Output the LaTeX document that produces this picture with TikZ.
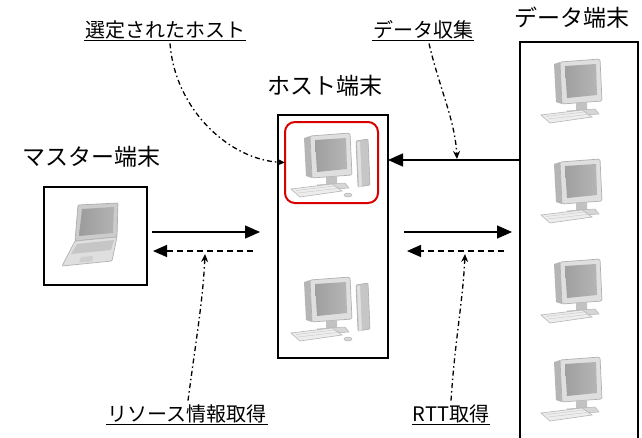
\documentclass[tikz,border=0pt]{standalone}
\usepackage{fontspec}
\newfontfamily\jp{Noto Sans CJK JP}
\usetikzlibrary{arrows.meta}

\tikzset{
  % flat-panel desktop monitor with keyboard (origin = top left)
  pics/monitor/.style={code={
    \fill[gray!58] (16,6) -- (22,4) -- (24,46) -- (18,44) -- cycle;
    \filldraw[fill=gray!25,draw=gray!62,line width=0.7pt,rounded corners=1.5pt]
      (22,4) -- (62,1) -- (64,43) -- (24,46) -- cycle;
    \shade[left color=gray!75,right color=gray!58]
      (27,8) -- (58,6) -- (59,37) -- (29,40) -- cycle;
    \fill[gray!48] (38,45) -- (49,44) -- (49,52) -- (38,53) -- cycle;
    \filldraw[fill=gray!32,draw=gray!58,line width=0.5pt]
      (29,53) -- (57,51) -- (61,56) -- (33,58) -- cycle;
    \filldraw[fill=gray!14,draw=gray!58,line width=0.6pt]
      (3,57) -- (44,52) -- (54,59) -- (12,65) -- cycle;
    \draw[gray!42,line width=0.4pt] (8,58.5) -- (46,54) (10,61) -- (49,56.5);
  }},
  % tower case and mouse next to the monitor
  pics/tower/.style={code={
    \filldraw[fill=gray!45,draw=gray!65,line width=0.6pt,rounded corners=1pt]
      (68,9) -- (80,7) -- (82,53) -- (70,55) -- cycle;
    \fill[gray!24] (69,10) -- (72,9.5) -- (74,54.5) -- (71,55) -- cycle;
    \filldraw[fill=gray!32,draw=gray!58,line width=0.5pt] (60,63) ellipse (4 and 2);
  }},
  % notebook computer (origin = top left)
  pics/laptop/.style={code={
    \filldraw[fill=gray!40,draw=gray!65,line width=0.7pt,rounded corners=1pt]
      (18,2) -- (58,0) -- (57,34) -- (15,38) -- cycle;
    \shade[left color=gray!78,right color=gray!60]
      (22,6) -- (54,4) -- (53,30) -- (19,33) -- cycle;
    \filldraw[fill=gray!25,draw=gray!60,line width=0.7pt,rounded corners=1pt]
      (15,38) -- (57,34) -- (52,58) -- (2,63) -- cycle;
    \fill[gray!45] (17,41) -- (54,37) -- (51,47) -- (11,51) -- cycle;
    \fill[gray!38] (21,54) -- (33,53) -- (32,58.5) -- (19,59.5) -- cycle;
  }},
}

\begin{document}
\begin{tikzpicture}[x=1pt,y=-1pt,
  box/.style={draw=black,line width=1.4pt,inner sep=0pt,outer sep=0pt},
  selbox/.style={draw=red!85!black,line width=2pt,rounded corners=10pt,inner sep=0pt,outer sep=0pt},
  title/.style={font=\jp\fontsize{23}{23}\selectfont,inner sep=0pt},
  lbl/.style={font=\jp\fontsize{20}{20}\selectfont,inner sep=1pt},
  uline/.style={line width=0.8pt},
  flow/.style={line width=1.4pt,-{Triangle[length=15pt,width=13pt]}},
  back/.style={line width=1.3pt,dash pattern=on 6pt off 4pt,-{Triangle[length=14pt,width=12pt]}},
  note/.style={line width=1.3pt,dash pattern=on 5pt off 3pt on 1.5pt off 3pt,-{Stealth[length=8pt,width=7pt]}},
]
\useasboundingbox[fill=white] (0,0) rectangle (642,437);

% boxes
\node[box,minimum width=103,minimum height=98] (master) at (95.5,236) {};
\node[box,minimum width=110,minimum height=243] (host) at (333,236.5) {};
\node[box,minimum width=118,minimum height=400] (data) at (579,242) {};
\node[selbox,minimum width=93,minimum height=81] (sel) at (331.5,162.5) {};

% computers
\begin{scope}[shift={(60,203)},scale=1.12]
  \pic at (0,0) {laptop};
\end{scope}
\pic at (288,132) {monitor};
\pic at (288,132) {tower};
\pic at (288,276) {monitor};
\pic at (288,276) {tower};
\pic at (538,58) {monitor};
\pic at (538,158) {monitor};
\pic at (538,258) {monitor};
\pic at (538,356) {monitor};

% titles
\node[title] (tmaster) at (91,157) {マスター端末};
\node[title] (thost) at (325,86) {ホスト端末};
\node[title] (tdata) at (572,18) {データ端末};

% underlined notes
\node[lbl] (lsel) at (165,30) {選定されたホスト};
\node[lbl] (lcol) at (423,30) {データ収集};
\node[lbl] (lres) at (187,414) {リソース情報取得};
\node[lbl] (lrtt) at (451,414) {RTT取得};
\foreach \n in {lsel,lcol,lres,lrtt}
  \draw[uline] (\n.south west) -- (\n.south east);

% message arrows
\coordinate (m1) at (152,232);
\coordinate (m2) at (260,232);
\coordinate (m3) at (253,251);
\coordinate (m4) at (153,251);
\coordinate (r1) at (404,232);
\coordinate (r2) at (512,232);
\coordinate (r3) at (504,251);
\coordinate (r4) at (407,251);
\coordinate (h1) at (520,160);
\draw[flow] (m1) -- (m2);
\draw[back] (m3) -- (m4);
\draw[flow] (r1) -- (r2);
\draw[back] (r3) -- (r4);
\draw[flow] (h1) -- (host.east |- h1);

% annotation pointers
\coordinate (pcol) at (457,159);
\coordinate (pres) at (205,254);
\coordinate (prtt) at (465,254);
\draw[note] ([xshift=5pt,yshift=-3pt]lsel.south) .. controls (175,110) and (230,160) .. (sel.west);
\draw[note] ([xshift=6pt,yshift=-3pt]lcol.south) .. controls (440,90) and (455,120) .. (pcol);
\draw[note] ([xshift=1pt,yshift=3pt]lres.north) .. controls (196,340) and (203,300) .. (pres);
\draw[note] ([yshift=3pt]lrtt.north) .. controls (455,340) and (463,300) .. (prtt);
\end{tikzpicture}
\end{document}
